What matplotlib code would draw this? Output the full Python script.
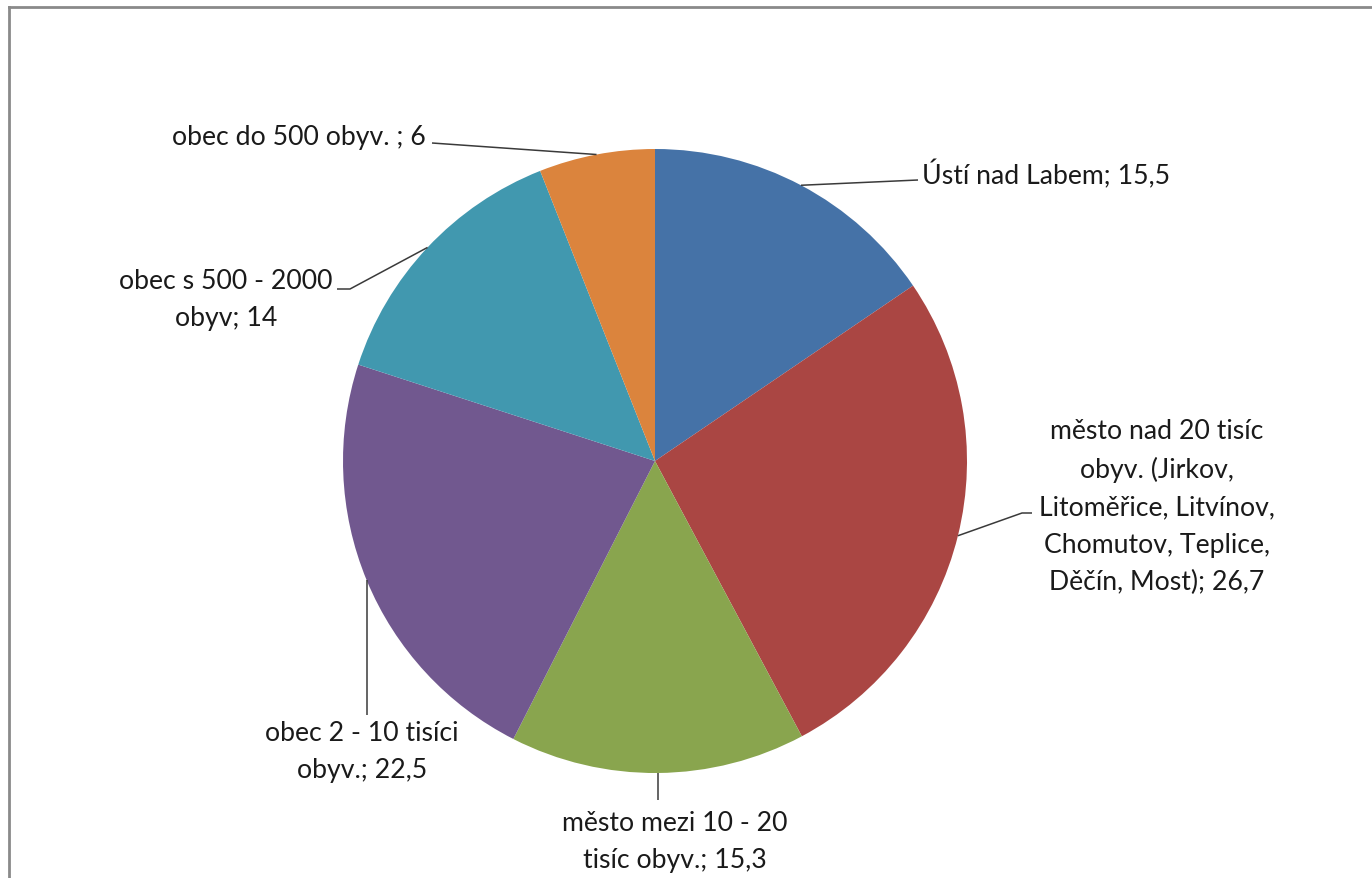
import numpy as np
import matplotlib
matplotlib.use("Agg")
import matplotlib.pyplot as plt
from matplotlib.lines import Line2D

labels = [
    "Ústí nad Labem; 15,5",
    "město nad 20 tisíc\nobyv. (Jirkov,\nLitoměřice, Litvínov,\nChomutov, Teplice,\nDěčín, Most); 26,7",
    "město mezi 10 - 20\ntisíc obyv.; 15,3",
    "obec 2 - 10 tisíci\nobyv.; 22,5",
    "obec s 500 - 2000\nobyv; 14",
    "obec do 500 obyv. ; 6",
]
values = [15.5, 26.7, 15.3, 22.5, 14, 6]
colors = ["#4572A7", "#AA4643", "#89A54E", "#71588F", "#4198AF", "#DB843D"]

W, H = 1372, 879
fig = plt.figure(figsize=(W / 100, H / 100), dpi=100)
ax = fig.add_axes([0, 0, 1, 1])

cx, cy, R = 655, H - 462, 312
wedges, _ = ax.pie(values, colors=colors, startangle=90, counterclock=False,
                   center=(cx, cy), radius=R, wedgeprops=dict(linewidth=0))
ax.set_xlim(0, W)
ax.set_ylim(0, H)
ax.set_aspect("equal")
ax.axis("off")

font = dict(family=["Lato", "DejaVu Sans"], fontsize=19.2, color="#1a1a1a",
            linespacing=1.62)

# label layout: (text x, text y (top-down px), ha, elbow points in top-down px;
# None for x means "same x as the leader start" -> vertical leader)
layout = [
    (922, 175, "left", [(918, 181)]),
    (1157, 507, "center", [(1022, 514), (1032, 514)]),
    (675, 842, "center", [(None, 801)]),
    (362, 752, "center", [(None, 716)]),
    (226, 300, "center", [(350, 290), (337, 290)]),
    (426, 137, "right", [(432, 144)]),
]

for w, lab, (tx, ty, ha, pts) in zip(wedges, labels, layout):
    mid = np.deg2rad((w.theta1 + w.theta2) / 2)
    sx = cx + R * np.cos(mid)
    sy = cy + R * np.sin(mid)
    xs = [sx] + [sx if p[0] is None else p[0] for p in pts]
    ys = [sy] + [H - p[1] for p in pts]
    ax.plot(xs, ys, color="#3a3a3a", lw=1.1, solid_capstyle="butt")
    ax.text(tx, H - ty, lab, ha=ha, va="center", multialignment="center", **font)

# chart frame (left and top edges visible)
fig.add_artist(Line2D([9 / W, 9 / W], [0, 1 - 8 / H], transform=fig.transFigure,
                      color="#8a8a8a", lw=2))
fig.add_artist(Line2D([9 / W, 1], [1 - 8 / H, 1 - 8 / H], transform=fig.transFigure,
                      color="#8a8a8a", lw=2))

fig.savefig("out.png", dpi=100)
